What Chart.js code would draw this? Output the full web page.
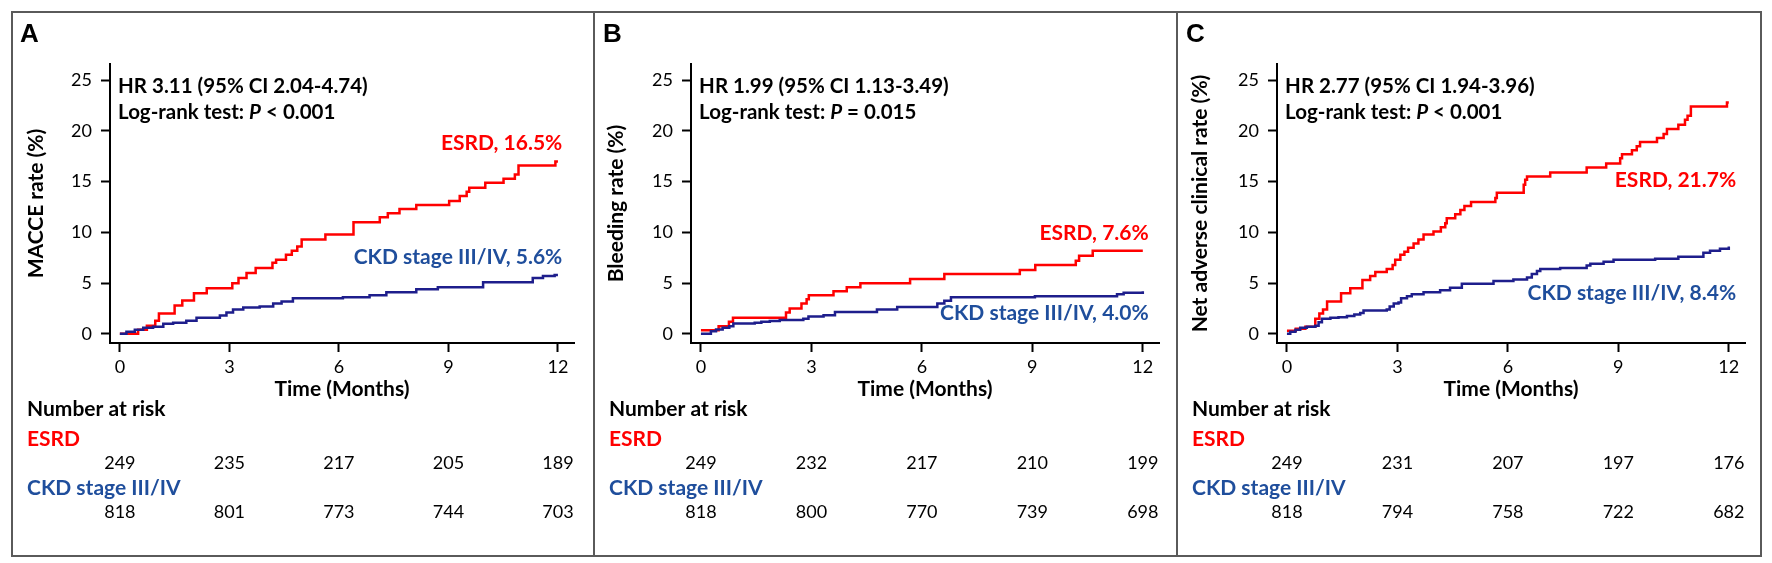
<!DOCTYPE html>
<html>
<head>
<meta charset="utf-8">
<script src="https://cdn.jsdelivr.net/npm/chart.js@4.4.1/dist/chart.umd.min.js"></script>
<style>
html, body { margin: 0; padding: 0; background: #fff; }
body { width: 1772px; height: 563px; position: relative; overflow: hidden; }
#frame { position: absolute; left: 11px; top: 11px; width: 1751px; height: 546px; border: 2px solid #5a5a5a; box-sizing: border-box; }
.sep { position: absolute; top: 11px; width: 2px; height: 546px; background: #5a5a5a; }
.panel { position: absolute; top: 12px; height: 544px; }
</style>
</head>
<body>
<div id="frame"></div>
<div class="sep" style="left:593px"></div>
<div class="sep" style="left:1176px"></div>
<div class="panel" style="left:12px;width:581px"><canvas id="chartA"></canvas></div>
<div class="panel" style="left:595px;width:581px"><canvas id="chartB"></canvas></div>
<div class="panel" style="left:1178px;width:583px"><canvas id="chartC"></canvas></div>
<script>
// axes
const xTicks = [0, 3, 6, 9, 12];
const yTicks = [0, 5, 10, 15, 20, 25];

// A: MACCE (months, cumulative %)
const maceEsrdT = [0, 0.50, 0.74, 0.97, 1.07, 1.50, 1.71, 2.03, 2.38, 3.08, 3.25, 3.47, 3.72, 4.18, 4.28, 4.55, 4.71, 4.86, 4.98, 5.63, 6.40, 7.12, 7.34, 7.66, 8.12, 9.02, 9.31, 9.50, 9.57, 10.01, 10.51, 10.82, 10.92, 11.93, 12.0];
const maceEsrdV = [0, 0.4, 0.8, 1.3, 2.0, 2.8, 3.3, 4.0, 4.5, 5.0, 5.5, 6.0, 6.5, 7.0, 7.3, 7.8, 8.2, 8.6, 9.3, 9.8, 11.0, 11.5, 11.9, 12.3, 12.7, 13.1, 13.6, 14.0, 14.4, 14.9, 15.3, 15.7, 16.6, 17.0, 17.0];
const maceCkdT = [0, 0.18, 0.41, 0.64, 0.91, 1.19, 1.46, 1.82, 2.10, 2.74, 2.92, 3.10, 3.38, 3.83, 4.20, 4.43, 4.74, 6.11, 6.84, 7.30, 8.12, 8.71, 9.95, 11.31, 11.59, 11.91, 12.0];
const maceCkdV = [0, 0.2, 0.4, 0.6, 0.7, 1.0, 1.1, 1.3, 1.6, 1.8, 2.1, 2.4, 2.6, 2.7, 3.0, 3.2, 3.5, 3.6, 3.8, 4.1, 4.4, 4.6, 5.1, 5.5, 5.7, 5.8, 5.8];
const maceRiskEsrd = [249, 235, 217, 205, 189];
const maceRiskCkd = [818, 801, 773, 744, 703];

// B: bleeding
const bleedEsrdT = [0, 0.48, 0.76, 0.87, 2.31, 2.41, 2.73, 2.87, 2.93, 3.60, 3.96, 4.33, 5.68, 6.61, 8.66, 9.08, 10.18, 10.27, 10.64, 12.0];
const bleedEsrdV = [0.35, 0.75, 1.2, 1.6, 2.1, 2.5, 3.0, 3.4, 3.8, 4.2, 4.6, 5.0, 5.4, 5.9, 6.3, 6.8, 7.2, 7.7, 8.2, 8.2];
const bleedCkdT = [0, 0.27, 0.41, 0.59, 0.77, 0.88, 1.46, 1.64, 1.87, 2.14, 2.78, 2.92, 3.33, 3.64, 4.78, 5.33, 6.42, 6.61, 6.79, 9.07, 11.30, 11.48, 12.0];
const bleedCkdV = [0, 0.27, 0.43, 0.6, 0.76, 1.03, 1.1, 1.2, 1.26, 1.36, 1.5, 1.7, 1.83, 2.16, 2.4, 2.66, 3.0, 3.26, 3.6, 3.7, 3.9, 4.05, 4.2];
const bleedRiskEsrd = [249, 232, 217, 210, 199];
const bleedRiskCkd = [818, 800, 770, 739, 698];

// C: net adverse clinical events
const naceEsrdT = [0, 0.24, 0.50, 0.77, 0.88, 0.98, 1.09, 1.47, 1.72, 2.05, 2.26, 2.40, 2.71, 2.87, 2.94, 3.08, 3.19, 3.29, 3.44, 3.57, 3.71, 3.98, 4.18, 4.30, 4.34, 4.57, 4.71, 4.82, 5.0, 5.66, 5.70, 6.43, 6.47, 6.52, 7.15, 8.14, 8.67, 9.05, 9.10, 9.37, 9.50, 9.59, 10.05, 10.23, 10.32, 10.63, 10.81, 10.88, 10.97, 11.95, 12.0];
const naceEsrdV = [0.3, 0.5, 0.7, 1.5, 2.0, 2.4, 3.2, 4.0, 4.5, 5.3, 5.7, 6.1, 6.4, 6.8, 7.3, 7.8, 8.1, 8.5, 8.9, 9.3, 9.8, 10.1, 10.5, 10.9, 11.4, 11.8, 12.2, 12.6, 13.0, 13.4, 13.9, 14.7, 15.2, 15.5, 15.9, 16.4, 16.8, 17.3, 17.7, 18.1, 18.5, 18.9, 19.3, 19.7, 20.2, 20.6, 21.1, 21.5, 22.4, 22.8, 22.8];
const naceCkdT = [0, 0.09, 0.23, 0.36, 0.54, 0.77, 0.86, 0.95, 1.18, 1.40, 1.63, 1.83, 1.99, 2.08, 2.71, 2.79, 2.90, 3.03, 3.10, 3.26, 3.39, 3.71, 4.16, 4.43, 4.75, 5.61, 6.15, 6.52, 6.65, 6.79, 6.88, 7.42, 8.14, 8.24, 8.60, 8.87, 10.0, 10.63, 11.31, 11.49, 11.76, 12.0];
const naceCkdV = [0, 0.2, 0.4, 0.6, 0.7, 0.8, 1.15, 1.5, 1.6, 1.65, 1.75, 1.9, 2.05, 2.3, 2.4, 2.7, 3.0, 3.1, 3.5, 3.7, 3.9, 4.1, 4.3, 4.55, 4.95, 5.2, 5.35, 5.55, 5.9, 6.2, 6.4, 6.5, 6.75, 6.9, 7.1, 7.3, 7.4, 7.6, 8.0, 8.2, 8.4, 8.6];
const naceRiskEsrd = [249, 231, 207, 197, 176];
const naceRiskCkd = [818, 794, 758, 722, 682];

const red = '#ff0000';
const navy = '#1e1e8c';
const textBlue = '#1f4e9c';
const FONT = 'Lato, "Open Sans", sans-serif';

function toPoints(t, v) {
  return t.map((x, i) => ({ x: x, y: v[i] }));
}

function extras(p) {
  return {
    id: 'kmExtras',
    afterDraw(chart) {
      const ctx = chart.ctx;
      const xs = chart.scales.x, ys = chart.scales.y;
      ctx.save();
      ctx.textBaseline = 'middle';
      ctx.textAlign = 'left';

      // panel letter
      ctx.fillStyle = '#000';
      ctx.font = 'bold 26px "Liberation Sans", Arial, sans-serif';
      ctx.fillText(p.letter, 8, 23);

      // HR and log-rank
      ctx.font = 'bold 20.5px ' + FONT;
      const hx = xs.getPixelForValue(-0.05);
      ctx.fillText(p.hr, hx, ys.getPixelForValue(24.4));
      const ly = ys.getPixelForValue(21.85);
      const a = 'Log-rank test: ';
      ctx.fillText(a, hx, ly);
      let w = ctx.measureText(a).width;
      ctx.font = 'italic bold 20.5px ' + FONT;
      ctx.fillText('P', hx + w, ly);
      w += ctx.measureText('P').width;
      ctx.font = 'bold 20.5px ' + FONT;
      ctx.fillText(p.pval, hx + w, ly);

      // curve labels
      ctx.textAlign = 'right';
      ctx.font = 'bold 21px ' + FONT;
      ctx.fillStyle = red;
      ctx.fillText(p.esrdLabel, xs.getPixelForValue(p.labelX), ys.getPixelForValue(p.esrdLabelY));
      ctx.fillStyle = textBlue;
      ctx.fillText(p.ckdLabel, xs.getPixelForValue(p.labelX), ys.getPixelForValue(p.ckdLabelY));

      // number at risk
      ctx.textAlign = 'left';
      ctx.fillStyle = '#000';
      ctx.font = 'bold 21px ' + FONT;
      ctx.fillText('Number at risk', p.riskLeft, 397);
      ctx.fillStyle = red;
      ctx.fillText('ESRD', p.riskLeft, 427);
      ctx.fillStyle = textBlue;
      ctx.fillText('CKD stage III/IV', p.riskLeft, 476);
      ctx.textAlign = 'center';
      ctx.fillStyle = '#000';
      ctx.font = '18px ' + FONT;
      xTicks.forEach((t, i) => {
        const px = xs.getPixelForValue(t);
        ctx.fillText(String(p.riskEsrd[i]), px, 451);
        ctx.fillText(String(p.riskCkd[i]), px, 500);
      });
      ctx.restore();
    }
  };
}

function makePanel(id, p) {
  return new Chart(document.getElementById(id), {
    type: 'line',
    data: {
      datasets: [
        { label: 'CKD stage III/IV', data: toPoints(p.ckdT, p.ckdV), borderColor: navy, borderWidth: 2.5, stepped: true, pointRadius: 0, fill: false },
        { label: 'ESRD', data: toPoints(p.esrdT, p.esrdV), borderColor: red, borderWidth: 2.5, stepped: true, pointRadius: 0, fill: false }
      ]
    },
    options: {
      responsive: true,
      maintainAspectRatio: false,
      animation: false,
      layout: { padding: { left: 0, top: 52, right: p.padRight, bottom: 154 } },
      plugins: { legend: { display: false }, tooltip: { enabled: false } },
      scales: {
        x: {
          type: 'linear',
          min: -0.27,
          max: 12.44,
          afterBuildTicks: s => { s.ticks = xTicks.map(v => ({ value: v })); },
          afterFit: s => { s.height = 59; },
          grid: { drawOnChartArea: false, tickLength: 9, tickWidth: 2, tickColor: '#000' },
          border: { color: '#000', width: 2 },
          ticks: { color: '#000', padding: 4, maxRotation: 0, font: { family: FONT, size: 18 } },
          title: { display: true, text: 'Time (Months)', color: '#000', padding: { top: 0, bottom: 0 }, font: { family: FONT, size: 21, weight: 'bold' } }
        },
        y: {
          min: -0.9,
          max: 26.6,
          afterBuildTicks: s => { s.ticks = yTicks.map(v => ({ value: v })); },
          afterFit: s => { s.width = p.yWidth; },
          grid: { drawOnChartArea: false, tickLength: 9, tickWidth: 2, tickColor: '#000' },
          border: { color: '#000', width: 2 },
          ticks: { color: '#000', padding: 9, font: { family: FONT, size: 18 } },
          title: { display: true, text: p.yTitle, color: '#000', padding: { top: p.yTitlePad, bottom: 0 }, font: { family: FONT, size: 21, weight: 'bold' } }
        }
      }
    },
    plugins: [extras(p)]
  });
}

makePanel('chartA', {
  letter: 'A', yTitle: 'MACCE rate (%)', yWidth: 98, yTitlePad: 12, padRight: 19,
  hr: 'HR 3.11 (95% CI 2.04-4.74)', pval: ' < 0.001',
  esrdLabel: 'ESRD, 16.5%', ckdLabel: 'CKD stage III/IV, 5.6%', labelX: 12.12, esrdLabelY: 18.8, ckdLabelY: 7.55,
  esrdT: maceEsrdT, esrdV: maceEsrdV, ckdT: maceCkdT, ckdV: maceCkdV,
  riskEsrd: maceRiskEsrd, riskCkd: maceRiskCkd, riskLeft: 15
});
makePanel('chartB', {
  letter: 'B', yTitle: 'Bleeding rate (%)', yWidth: 96, yTitlePad: 9, padRight: 17,
  hr: 'HR 1.99 (95% CI 1.13-3.49)', pval: ' = 0.015',
  esrdLabel: 'ESRD, 7.6%', ckdLabel: 'CKD stage III/IV, 4.0%', labelX: 12.16, esrdLabelY: 9.9, ckdLabelY: 2.05,
  esrdT: bleedEsrdT, esrdV: bleedEsrdV, ckdT: bleedCkdT, ckdV: bleedCkdV,
  riskEsrd: bleedRiskEsrd, riskCkd: bleedRiskCkd, riskLeft: 14
});
makePanel('chartC', {
  letter: 'C', yTitle: 'Net adverse clinical rate (%)', yWidth: 99, yTitlePad: 10, padRight: 16,
  hr: 'HR 2.77 (95% CI 1.94-3.96)', pval: ' < 0.001',
  esrdLabel: 'ESRD, 21.7%', ckdLabel: 'CKD stage III/IV, 8.4%', labelX: 12.2, esrdLabelY: 15.1, ckdLabelY: 4.0,
  esrdT: naceEsrdT, esrdV: naceEsrdV, ckdT: naceCkdT, ckdV: naceCkdV,
  riskEsrd: naceRiskEsrd, riskCkd: naceRiskCkd, riskLeft: 14
});
</script>
</body>
</html>
